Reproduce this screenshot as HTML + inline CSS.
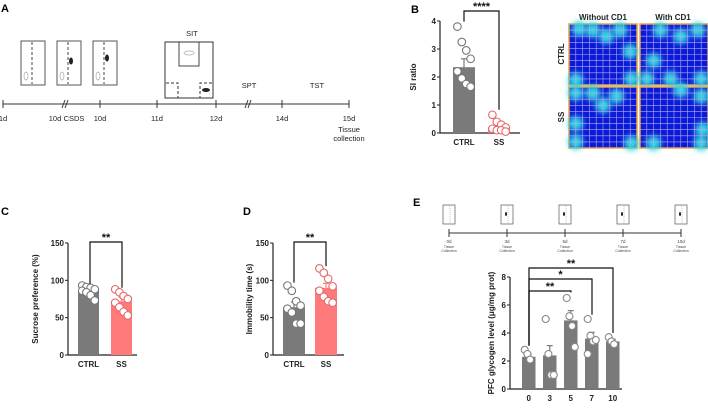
<!DOCTYPE html>
<html><head><meta charset="utf-8">
<style>
html,body{margin:0;padding:0;background:#fff;}
svg{display:block;font-family:"Liberation Sans",Arial,sans-serif;}
</style></head>
<body>
<svg id="fig" width="708" height="412" viewBox="0 0 708 412">
<defs>
<filter id="blur" x="-50%" y="-50%" width="200%" height="200%"><feGaussianBlur stdDeviation="3"/></filter>
</defs>
<g id="panelA"></g>
<g id="panelB"></g>
<g id="heat"></g>
<g id="panelC"></g>
<g id="panelD"></g>
<g id="panelE"></g>
</svg>
<script>
// ---- data ----
const bCategories = ["CTRL","SS"];
const bMeans = [2.35, 0.2];
const bErr = [0.3, 0.07];
const bCtrlPts = [3.8,3.25,2.95,2.65,2.2,1.95,1.75,1.65];
const bSsPts = [0.65,0.4,0.3,0.2,0.15,0.1,0.1,0.05];
const bTicks = [0,1,2,3,4];

const cCategories = ["CTRL","SS"];
const cMeans = [87, 72];
const cErr = [3, 5];
const cCtrlPts = [93,91,90,88,86,84,80,73];
const cSsPts = [88,84,79,75,70,64,58,53];
const cTicks = [0,50,100,150];

const dCategories = ["CTRL","SS"];
const dMeans = [64, 90];
const dErr = [7, 6];
const dCtrlPts = [93,86,72,66,62,57,42,42];
const dSsPts = [116,110,102,92,86,78,72,70];
const dTicks = [0,50,100,150];

const eCategories = ["0","3","5","7","10"];
const eMeans = [2.3, 2.4, 4.9, 3.6, 3.4];
const eErr = [0.2, 0.7, 0.7, 0.45, 0.15];
const ePts = [[2.8,2.5,2.1],[5.0,2.5,1.0,1.0],[6.5,5.2,4.5,3.0],[5.0,3.8,3.4,3.5,2.5],[3.7,3.4,3.2]];
const eTicks = [0,2,4,6,8];

const NS="http://www.w3.org/2000/svg";
function el(tag, attrs, parent, text){
  const e=document.createElementNS(NS,tag);
  for(const k in attrs) e.setAttribute(k,attrs[k]);
  if(text!==undefined) e.textContent=text;
  parent.appendChild(e); return e;
}

// ---- Panel A ----
const A=document.getElementById('panelA');
const tA=el('text',{x:1,y:12,'font-size':11,'font-weight':'bold'},A,'A');


const tl=el('line',{x1:3,y1:104,x2:349,y2:104,stroke:'#333','stroke-width':1},A);


const aTicks=[[3,'1d'],[100,'10d'],[157,'11d'],[216,'12d'],[282,'14d'],[349,'15d']];
aTicks.forEach(([x,l])=>{
  el('line',{x1:x,y1:100,x2:x,y2:108,stroke:'#333'},A);
  const t=el('text',{x:x,y:121,'font-size':7.5,'text-anchor':'middle',fill:'#222'},A,l);
  
  
});
[62,245].forEach((x)=>{
  el('line',{x1:x,y1:108,x2:x+3,y2:100,stroke:'#333'},A);
  el('line',{x1:x+3,y1:108,x2:x+6,y2:100,stroke:'#333'},A);
});
el('text',{x:55,y:121,'font-size':7.5,'text-anchor':'middle',fill:'#222'},A,'10d');
el('text',{x:74,y:121,'font-size':7.5,'text-anchor':'middle',fill:'#222'},A,'CSDS');
el('text',{x:192,y:36,'font-size':7.5,'text-anchor':'middle',fill:'#222'},A,'SIT');
el('text',{x:249,y:88,'font-size':7.5,'text-anchor':'middle',fill:'#222'},A,'SPT');
el('text',{x:317,y:88,'font-size':7.5,'text-anchor':'middle',fill:'#222'},A,'TST');
el('text',{x:349,y:132,'font-size':7.5,'text-anchor':'middle',fill:'#222'},A,'Tissue');
el('text',{x:349,y:141,'font-size':7.5,'text-anchor':'middle',fill:'#222'},A,'collection');
[21,57,93].forEach((x,i)=>{
  const r=el('rect',{x:x,y:41,width:24,height:44,fill:'none',stroke:'#444','stroke-width':0.9},A);
  
  
  el('line',{x1:x+11,y1:42,x2:x+11,y2:84,stroke:'#444','stroke-dasharray':'3,2'},A);
  el('ellipse',{cx:x+5,cy:76,rx:2,ry:4,fill:'none',stroke:'#aaa','stroke-width':0.7},A);
  if(i>0) el('ellipse',{cx:x+14,cy:i==1?61:58,rx:2,ry:3.5,fill:'#222'},A);
});
const sit=el('rect',{x:165,y:42,width:48,height:56,fill:'none',stroke:'#333','stroke-width':1},A);


el('rect',{x:179,y:42,width:20,height:24,fill:'none',stroke:'#333','stroke-width':0.9},A);
el('ellipse',{cx:189,cy:53,rx:5,ry:2,fill:'none',stroke:'#aaa','stroke-width':0.7},A);
el('polyline',{points:'166,83 178,83 178,98',fill:'none',stroke:'#333','stroke-dasharray':'3,2'},A);
el('polyline',{points:'212,83 200,83 200,98',fill:'none',stroke:'#333','stroke-dasharray':'3,2'},A);
el('ellipse',{cx:206,cy:90,rx:4,ry:2,fill:'#222'},A);

// ---- generic bar-scatter builder ----
function barChart(g, o){
  const y=v=>o.y0-(v-o.vmin)/(o.vmax-o.vmin)*(o.y0-o.y1);
  const ya=el('line',{x1:o.ax,y1:y(o.ticks[o.ticks.length-1]),x2:o.ax,y2:o.y0,stroke:'#222','stroke-width':1.2},g);
  
  
  const xa=el('line',{x1:o.ax,y1:o.y0,x2:o.axEnd,y2:o.y0,stroke:'#222','stroke-width':1.2},g);
  
  
  o.ticks.forEach(t=>{
    el('line',{x1:o.ax-3,y1:y(t),x2:o.ax,y2:y(t),stroke:'#222','stroke-width':1},g);
    const tt=el('text',{x:o.ax-4,y:y(t)+3,'font-size':o.fs,'font-weight':'bold','text-anchor':'end',fill:'#222'},g,t);
    
    
  });
  const yl=el('text',{x:0,y:0,'font-size':o.fs,'font-weight':'bold','text-anchor':'middle',fill:'#222',transform:`translate(${o.ylx},${(o.y0+y(o.ticks[o.ticks.length-1]))/2}) rotate(-90)`},g,o.ylabel);
  
  
  o.cats.forEach((c,i)=>{
    const x0=o.bx[i], w=o.bw, cx=x0+w/2;
    const col=o.colors[i];
    el('line',{x1:cx,y1:y(o.means[i]),x2:cx,y2:y(o.means[i]+o.err[i]),stroke:col,'stroke-width':1.2},g);
    el('line',{x1:cx-3,y1:y(o.means[i]+o.err[i]),x2:cx+3,y2:y(o.means[i]+o.err[i]),stroke:col,'stroke-width':1.2},g);
    const b=el('rect',{x:x0,y:y(o.means[i]),width:w,height:o.y0-y(o.means[i]),fill:col},g);
    
    
    o.pts[i].forEach((v,j)=>{
      const off=((j%4)-1.5)*(w/5);
      const p=el('circle',{cx:cx+off,cy:y(v),r:o.r,fill:'#fff',stroke:o.ptStroke[i],'stroke-width':1.1},g);
      
      
    });
    const lt=el('text',{x:cx,y:o.y0+o.fs+4,'font-size':o.fs,'font-weight':'bold','text-anchor':'middle',fill:'#222'},g,c);
    
    
  });
  return y;
}
function bracket(g,x1,x2,yTop,yl,yr,label){
  el('polyline',{points:`${x1},${yl} ${x1},${yTop} ${x2},${yTop} ${x2},${yr}`,fill:'none',stroke:'#111','stroke-width':1.2},g);
  const s=el('text',{x:(x1+x2)/2,y:yTop-1,'font-size':11,'font-weight':'bold','text-anchor':'middle',fill:'#111'},g,label);
  
  
}

// ---- Panel B ----
const B=document.getElementById('panelB');
el('text',{x:411,y:13,'font-size':11,'font-weight':'bold'},B,'B');
const yB=barChart(B,{ax:440,axEnd:520,y0:133,y1:21,vmin:0,vmax:4,ticks:bTicks,fs:8,ylx:416,ylabel:'SI ratio',
  cats:bCategories,bx:[453,488],bw:22,means:bMeans,err:bErr,pts:[bCtrlPts,bSsPts],colors:['#7a7a7a','#ff7b7b'],
  ptStroke:['#777','#e56a6a'],r:3.8});
bracket(B,464,499,11,yB(bCtrlPts[0])-5,yB(bSsPts[0])-5,'****');

// ---- Heatmaps ----
const H=document.getElementById('heat');
el('text',{x:603,y:20,'font-size':8,'font-weight':'bold','text-anchor':'middle',fill:'#222'},H,'Without CD1');
el('text',{x:673,y:20,'font-size':8,'font-weight':'bold','text-anchor':'middle',fill:'#222'},H,'With CD1');
el('text',{x:0,y:0,'font-size':8,'font-weight':'bold','text-anchor':'middle',fill:'#222',transform:'translate(564,54) rotate(-90)'},H,'CTRL');
el('text',{x:0,y:0,'font-size':8,'font-weight':'bold','text-anchor':'middle',fill:'#222',transform:'translate(564,117) rotate(-90)'},H,'SS');
const hm=[[569,24,[[0.15,0.08],[0.35,0.1],[0.75,0.1],[0.9,0.45],[0.92,0.9],[0.1,0.92],[0.55,0.2]]],
 [640,24,[[0.3,0.1],[0.6,0.2],[0.85,0.1],[0.1,0.9],[0.45,0.9],[0.9,0.9],[0.2,0.6]]],
 [569,87,[[0.1,0.1],[0.35,0.1],[0.7,0.15],[0.1,0.6],[0.1,0.9],[0.92,0.92],[0.5,0.3]]],
 [640,87,[[0.9,0.15],[0.92,0.7],[0.9,0.92],[0.2,0.92],[0.6,0.05]]]];
hm.forEach(([x,y,spots],k)=>{
  const g=el('g',{},H);
  
  
  el('rect',{x:x,y:y,width:68,height:61,fill:'#0a1bd8',stroke:'#f0a040','stroke-width':1.5},g);
  spots.forEach(([u,v])=>el('circle',{cx:x+u*68,cy:y+v*61,r:7.5,fill:'#30d8e0',filter:'url(#blur)'},g));
  for(let i=1;i<10;i++){
    el('line',{x1:x+i*6.8,y1:y,x2:x+i*6.8,y2:y+61,stroke:'#b8a8f0','stroke-width':0.6},g);
    el('line',{x1:x,y1:y+i*6.1,x2:x+68,y2:y+i*6.1,stroke:'#b8a8f0','stroke-width':0.6},g);
  }
});

// ---- Panel C ----
const C=document.getElementById('panelC');
el('text',{x:1,y:215,'font-size':11,'font-weight':'bold'},C,'C');
const yC=barChart(C,{ax:68,axEnd:137,y0:355,y1:243,vmin:0,vmax:150,ticks:cTicks,fs:8,ylx:38,ylabel:'Sucrose preference (%)',
  cats:cCategories,bx:[78,111],bw:21,means:cMeans,err:cErr,pts:[cCtrlPts,cSsPts],colors:['#7a7a7a','#ff7b7b'],
  ptStroke:['#777','#e56a6a'],r:3.8});
bracket(C,90,122,242,yC(95),yC(90),'**');

// ---- Panel D ----
const D=document.getElementById('panelD');
el('text',{x:243,y:215,'font-size':11,'font-weight':'bold'},D,'D');
const yD=barChart(D,{ax:273,axEnd:344,y0:355,y1:243,vmin:0,vmax:150,ticks:dTicks,fs:8,ylx:252,ylabel:'Immobility time (s)',
  cats:dCategories,bx:[283,315],bw:22,means:dMeans,err:dErr,pts:[dCtrlPts,dSsPts],colors:['#7a7a7a','#ff7b7b'],
  ptStroke:['#777','#e56a6a'],r:3.8});
bracket(D,294,326,242,yD(97),yD(119),'**');

// ---- Panel E ----
const E=document.getElementById('panelE');
el('text',{x:413,y:206,'font-size':11,'font-weight':'bold'},E,'E');
el('line',{x1:449,y1:233,x2:681,y2:233,stroke:'#333'},E);
[[449,'0d'],[507,'3d'],[565,'5d'],[623,'7d'],[681,'10d']].forEach(([x,l],i)=>{
  el('line',{x1:x,y1:229,x2:x,y2:237,stroke:'#333'},E);
  el('rect',{x:x-6,y:205,width:12,height:19,fill:'none',stroke:'#555','stroke-width':0.7},E);
  el('line',{x1:x+1,y1:206,x2:x+1,y2:223,stroke:'#888','stroke-width':0.5,'stroke-dasharray':'1,1'},E);
  if(i>0) el('ellipse',{cx:x-1,cy:214,rx:1,ry:2,fill:'#222'},E);
  el('text',{x:x,y:243,'font-size':4.5,'text-anchor':'middle',fill:'#444'},E,l);
  el('text',{x:x,y:248,'font-size':3.5,'text-anchor':'middle',fill:'#444'},E,'Tissue');
  el('text',{x:x,y:252,'font-size':3.5,'text-anchor':'middle',fill:'#444'},E,'Collection');
});
const yE=barChart(E,{ax:510,axEnd:622,y0:389,y1:277,vmin:0,vmax:8,ticks:eTicks,fs:8,ylx:494,ylabel:'PFC glycogen level (μg/mg prot)',
  cats:eCategories,bx:[522,543,564,585,606],bw:13.5,means:eMeans,err:eErr,pts:ePts,
  colors:['#7a7a7a','#7a7a7a','#7a7a7a','#7a7a7a','#7a7a7a'],ptStroke:['#888','#888','#888','#888','#888'],r:3.5});
bracket(E,529,613,268,yE(3.1),yE(4),'**');
bracket(E,529,592,279,yE(3.1),yE(5.3),'*');
bracket(E,529,571,291,yE(3.1),yE(6.9),'**');
</script>
</body></html>
